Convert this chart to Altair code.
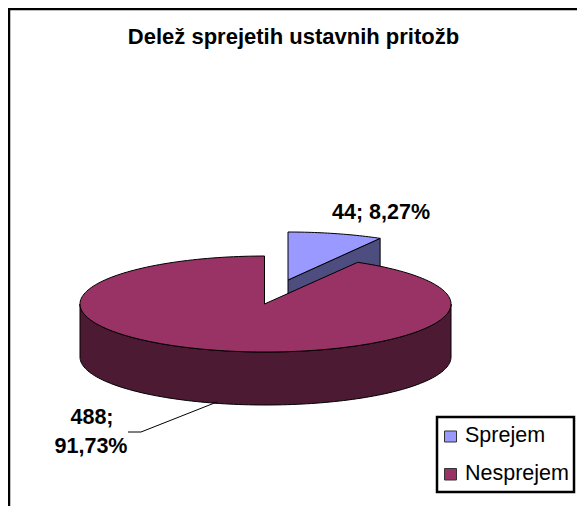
import numpy as np
import pandas as pd
import altair as alt

# --- chart values ---
categories = ["Sprejem", "Nesprejem"]
counts = [44, 488]
labels = [["44; 8,27%"], ["488;", "91,73%"]]
title_text = "Delež sprejetih ustavnih pritožb"

# --- styles / layout ---
top_colors = ["#9999FF", "#993366"]
side_colors = ["#4D4D80", "#4D1A33"]
FONT = "Liberation Sans"
W, H = 569, 498
CX, CY, RX, RY, DEPTH = 265.5, 304, 185.5, 48, 53
EXPLODE = (23.5, -24)
xs = alt.Scale(domain=[8, 8 + W], range=[0, W], nice=False, zero=False)
ys = alt.Scale(domain=[8, 8 + H], range=[0, H], nice=False, zero=False)
X = lambda f="x": alt.X(f"{f}:Q", scale=xs, axis=None)
Y = lambda f="y": alt.Y(f"{f}:Q", scale=ys, axis=None)


def rim(t, cx, cy):
    return list(cx + RX * np.sin(t)), list(cy - RY * np.cos(t))


def poly(px, py, fill):
    d = pd.DataFrame({"x": px, "y": py, "i": range(len(px))})
    return alt.Chart(d).mark_line(fill=fill, stroke="black", strokeWidth=1, interpolate="linear-closed").encode(
        x=X(), y=Y(), order="i:Q")


split = 2 * np.pi * counts[0] / sum(counts)

# exploded slice
ex, ey = CX + EXPLODE[0] - 1, CY + EXPLODE[1]
arc = np.linspace(0, split, 30)
ax, ay = rim(arc, ex, ey)
expl_top = poly([ex] + ax, [ey] + ay, top_colors[0])
expl_side = poly([ex, ax[-1], ax[-1], ex], [ey, ay[-1], ay[-1] + DEPTH, ey + DEPTH], side_colors[0])

# main slice
arc = np.linspace(split, 2 * np.pi, 200)
mx, my = rim(arc, CX, CY)
mx[-1] = CX - 1
main_top = poly([CX - 1] + mx, [CY] + my, top_colors[1])
front = np.linspace(np.pi / 2, 3 * np.pi / 2, 120)
fx, fy = rim(front, CX, CY)
main_side = poly(fx + fx[::-1], fy + [v + DEPTH for v in fy[::-1]], side_colors[1])

# frame (open on the right and at the bottom)
frame = alt.Chart(pd.DataFrame({"x": [8.5, 8.5, 585], "y": [514, 8.5, 8.5], "i": [0, 1, 2]})).mark_line(
    color="black", strokeWidth=3.5).encode(x=X(), y=Y(), order="i:Q")


def text(rows, size, weight="bold", align="center"):
    return alt.Chart(pd.DataFrame(rows)).mark_text(
        font=FONT, fontSize=size, fontWeight=weight, align=align, baseline="middle", color="black"
    ).encode(x=X(), y=Y(), text="t:N")


title = text([{"x": 293.5, "y": 37, "t": title_text}], 22)
data_labels = text([
    {"x": 381, "y": 213, "t": labels[0][0]},
    {"x": 92, "y": 418, "t": labels[1][0]},
    {"x": 91, "y": 447, "t": labels[1][1]},
], 21.5)

leader = alt.Chart(pd.DataFrame({"x": [128, 141, 217], "y": [432, 432, 402], "i": [0, 1, 2]})).mark_line(
    color="black", strokeWidth=1).encode(x=X(), y=Y(), order="i:Q")

# legend
legend_box = alt.Chart(pd.DataFrame({"x": [437], "x2": [574], "y": [417], "y2": [492]})).mark_rect(
    fill="white", stroke="black", strokeWidth=2.5).encode(x=X(), x2="x2:Q", y=Y(), y2="y2:Q")
legend_df = pd.DataFrame({
    "cat": categories,
    "x": [444.5, 444.5], "x2": [456.5, 456.5],
    "y": [431, 468.5], "y2": [442, 480],
    "tx": [465, 465], "ty": [436, 473.5],
})
swatches = alt.Chart(legend_df).mark_rect(stroke="#333333", strokeWidth=1).encode(
    x=X(), x2="x2:Q", y=Y(), y2="y2:Q",
    fill=alt.Fill("cat:N", scale=alt.Scale(domain=categories, range=top_colors), legend=None))
legend_text = alt.Chart(legend_df).mark_text(
    font=FONT, fontSize=21.5, align="left", baseline="middle", color="black"
).encode(x=X("tx"), y=Y("ty"), text="cat:N")

chart = alt.layer(
    frame, expl_side, expl_top, main_side, main_top, leader, title, data_labels,
    legend_box, swatches, legend_text
).resolve_scale(fill="independent").properties(
    width=W, height=H, padding=0, background="white",
    autosize=alt.AutoSizeParams(type="none", contains="padding")
).configure_view(stroke=None)

chart.save("out.html", embed_options={"renderer": "svg", "actions": False})
